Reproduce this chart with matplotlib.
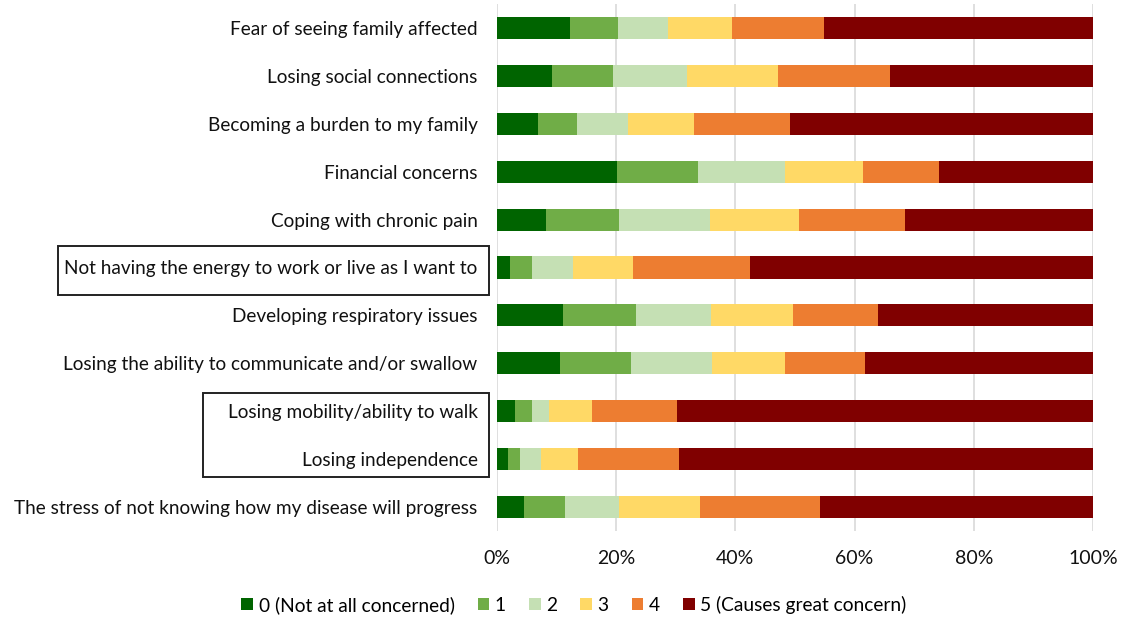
import matplotlib.pyplot as plt
from matplotlib.patches import Rectangle
import numpy as np

plt.rcParams['font.family'] = ['Lato', 'DejaVu Sans']

# top to bottom as in the chart
items = [
    'Fear of seeing family affected',
    'Losing social connections',
    'Becoming a burden to my family',
    'Financial concerns',
    'Coping with chronic pain',
    'Not having the energy to work or live as I want to',
    'Developing respiratory issues',
    'Losing the ability to communicate and/or swallow',
    'Losing mobility/ability to walk',
    'Losing independence',
    'The stress of not knowing how my disease will progress',
]

level_names = ['0 (Not at all concerned)', '1', '2', '3', '4', '5 (Causes great concern)']
level_colors = ['#006400', '#70AD47', '#C5E0B4', '#FFD966', '#ED7D31', '#800000']

# percent of respondents per level, same order as items
lvl0 = [12.2, 9.3, 6.9, 20.2, 8.2, 2.1, 11.0, 10.6, 3.1, 1.8, 4.5]
lvl1 = [8.1, 10.1, 6.6, 13.5, 12.3, 3.8, 12.4, 11.9, 2.7, 2.0, 6.9]
lvl2 = [8.4, 12.4, 8.5, 14.7, 15.2, 6.9, 12.5, 13.6, 3.0, 3.6, 9.1]
lvl3 = [10.7, 15.4, 11.0, 13.0, 15.0, 10.0, 13.8, 12.2, 7.1, 6.2, 13.5]
lvl4 = [15.5, 18.8, 16.2, 12.7, 17.7, 19.7, 14.3, 13.4, 14.3, 16.9, 20.2]
lvl5 = [45.1, 34.0, 50.8, 25.9, 31.6, 57.5, 36.0, 38.3, 69.8, 69.5, 45.8]

xticks = [0, 20, 40, 60, 80, 100]

fig = plt.figure(figsize=(11.26, 6.18), dpi=100)
ax = fig.add_axes([497 / 1126, 1 - 531 / 618, 596 / 1126, 527 / 618])

data = np.array([lvl0, lvl1, lvl2, lvl3, lvl4, lvl5])
data = data / data.sum(axis=0) * 100
y = np.arange(len(items))
left = np.zeros(len(items))
for vals, name, col in zip(data, level_names, level_colors):
    ax.barh(y, vals, left=left, height=0.46, color=col, label=name, zorder=3)
    left += vals

ax.set_ylim(len(items) - 0.5, -0.5)
ax.set_xlim(0, 100)
ax.set_yticks(y)
ax.set_yticklabels(items, fontsize=13.7, color='#111111')
ax.set_xticks(xticks)
ax.set_xticklabels([f'{t}%' for t in xticks], fontsize=14, color='#111111')
ax.tick_params(axis='y', length=0, pad=14)
ax.tick_params(axis='x', length=0, pad=14)
ax.grid(axis='x', color='#D9D9D9', linewidth=1.2, zorder=0)
for s in ax.spines.values():
    s.set_visible(False)

# boxes drawn around the highlighted labels
for x0, y0, x1, y1 in [(58, 246, 489, 295), (203, 393, 489, 477)]:
    fig.patches.append(Rectangle((x0 / 1126, 1 - y1 / 618), (x1 - x0) / 1126, (y1 - y0) / 618,
                                 transform=fig.transFigure, fill=False,
                                 edgecolor='#222222', linewidth=1.4))

fig.legend(loc='center', bbox_to_anchor=(574 / 1126, 1 - 605 / 618), ncol=6,
           frameon=False, fontsize=13.8, handlelength=0.6, handleheight=0.6,
           handletextpad=0.3, columnspacing=1.2)

fig.savefig('out.png', dpi=100)
